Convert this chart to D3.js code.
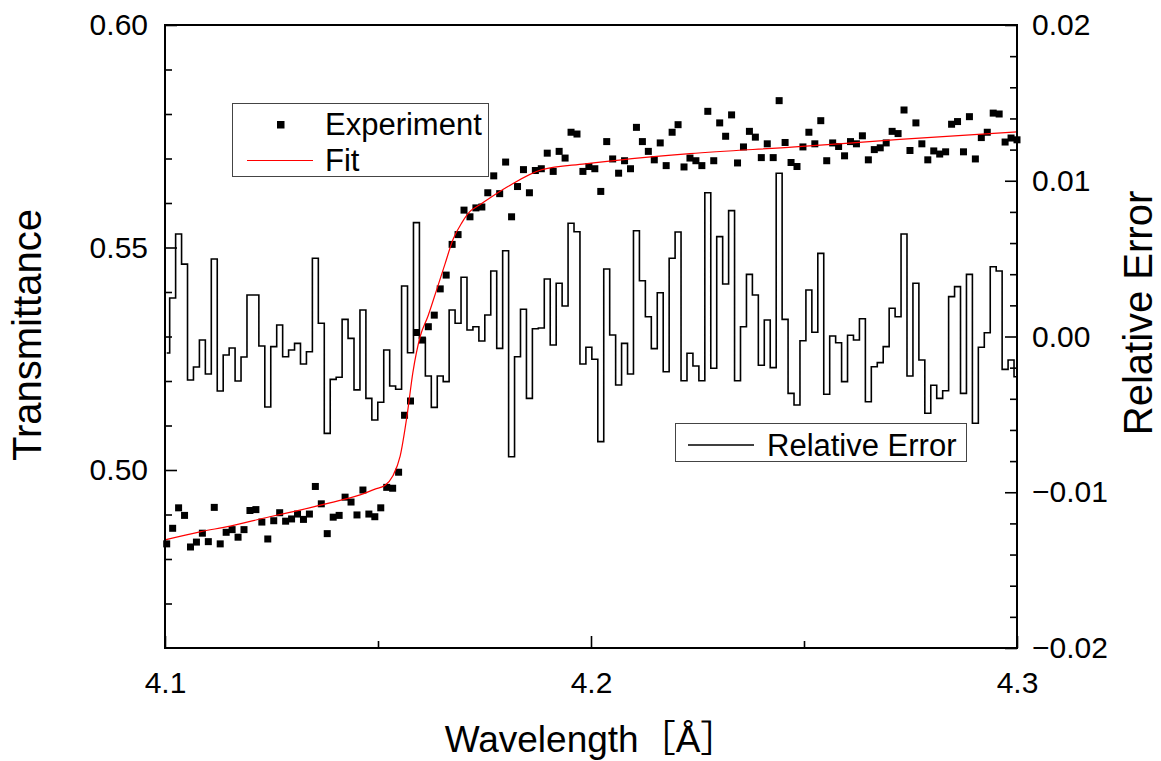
<!DOCTYPE html>
<html>
<head>
<meta charset="utf-8">
<script src="https://cdn.jsdelivr.net/npm/d3@7"></script>
<style>
  body { margin: 0; background: #fff; }
  svg { display: block; font-family: "Liberation Sans", Arial, "Noto Sans CJK JP", sans-serif; }
</style>
</head>
<body>
<div id="chart"></div>
<script>
// wavelength grid of the measurement (evenly sampled)
const wlStart = 4.1004;
const wlStep = 0.0013958;
const nPoints = 144;
const wavelength = d3.range(nPoints).map(i => wlStart + i * wlStep);

const transmittance = [
  0.4834, 0.4869, 0.4915, 0.4898, 0.4827, 0.4838, 0.4858, 0.4839, 0.4916, 0.4834,
  0.4860, 0.4866, 0.4849, 0.4866, 0.4909, 0.4911, 0.4883, 0.4845, 0.4886, 0.4904,
  0.4885, 0.4890, 0.4901, 0.4889, 0.4901, 0.4963, 0.4924, 0.4857, 0.4894, 0.4898,
  0.4939, 0.4928, 0.4899, 0.4955, 0.4901, 0.4895, 0.4915, 0.4961, 0.4959, 0.4995,
  0.5123, 0.5155, 0.5309, 0.5292, 0.5322, 0.5348, 0.5407, 0.5438, 0.5507, 0.5529,
  0.5584, 0.5569, 0.5589, 0.5591, 0.5623, 0.5661, 0.5621, 0.5692, 0.5569, 0.5637,
  0.5675, 0.5623, 0.5673, 0.5677, 0.5712, 0.5671, 0.5716, 0.5701, 0.5759, 0.5755,
  0.5671, 0.5682, 0.5677, 0.5626, 0.5738, 0.5699, 0.5667, 0.5695, 0.5677, 0.5770,
  0.5738, 0.5716, 0.5697, 0.5735, 0.5684, 0.5759, 0.5776, 0.5681, 0.5701, 0.5695,
  0.5684, 0.5806, 0.5695, 0.5780, 0.5750, 0.5798, 0.5690, 0.5726, 0.5761, 0.5748,
  0.5702, 0.5733, 0.5702, 0.5830, 0.5736, 0.5691, 0.5682, 0.5726, 0.5759, 0.5733,
  0.5785, 0.5695, 0.5735, 0.5727, 0.5706, 0.5738, 0.5733, 0.5751, 0.5697, 0.5720,
  0.5724, 0.5735, 0.5761, 0.5756, 0.5809, 0.5718, 0.5780, 0.5733, 0.5697, 0.5717,
  0.5710, 0.5715, 0.5777, 0.5783, 0.5715, 0.5794, 0.5699, 0.5747, 0.5759, 0.5802,
  0.5800, 0.5737, 0.5746, 0.5742
];

// relative error per point (right axis)
const relError = [
  -0.00106, 0.00247, 0.00658, 0.00465, -0.00279, -0.00196, -0.00022, -0.00241, 0.00498, -0.00350,
  -0.00119, -0.00074, -0.00286, -0.00132, 0.00266, 0.00266, -0.00061, -0.00453, -0.00065, 0.00074,
  -0.00130, -0.00087, -0.00044, -0.00177, -0.00098, 0.00502, 0.00085, -0.00622, -0.00275, -0.00262,
  0.00110, -0.00012, -0.00343, 0.00170, -0.00397, -0.00536, -0.00422, -0.00087, -0.00318, -0.00339,
  0.00324, -0.00104, 0.00731, -0.00012, -0.00254, -0.00455, -0.00254, -0.00290, 0.00170, 0.00085,
  0.00380, 0.00042, 0.00063, -0.00029, 0.00138, 0.00421, -0.00076, 0.00551, -0.00772, -0.00130,
  0.00175, -0.00397, 0.00050, 0.00055, 0.00369, -0.00055, 0.00342, 0.00196, 0.00727, 0.00673,
  -0.00177, -0.00069, -0.00146, -0.00675, 0.00433, 0.00010, -0.00311, -0.00044, -0.00241, 0.00679,
  0.00358, 0.00127, -0.00078, 0.00281, -0.00226, 0.00502, 0.00671, -0.00284, -0.00108, -0.00189,
  -0.00284, 0.00923, -0.00204, 0.00641, 0.00337, 0.00808, -0.00284, 0.00063, 0.00399, 0.00266,
  -0.00185, 0.00106, -0.00200, 0.01048, 0.00110, -0.00365, -0.00440, -0.00027, 0.00299, 0.00027,
  0.00534, -0.00371, 0.00003, -0.00040, -0.00290, 0.00008, -0.00022, 0.00114, -0.00419, -0.00194,
  -0.00168, -0.00065, 0.00181, 0.00127, 0.00658, -0.00254, 0.00342, -0.00151, -0.00493, -0.00313,
  -0.00397, -0.00348, 0.00256, 0.00320, -0.00365, 0.00399, -0.00557, -0.00069, 0.00024, 0.00448,
  0.00421, -0.00211, -0.00151, -0.00258
];

// fit curve, sampled along the drawn line
const fitWavelength = [
  4.1000, 4.1082, 4.1153, 4.1246, 4.1317, 4.1387, 4.1458, 4.1493, 4.1516, 4.1535,
  4.1552, 4.1568, 4.1582, 4.1599, 4.1617, 4.1638, 4.1657, 4.1676, 4.1697, 4.1716,
  4.1739, 4.1805, 4.1885, 4.1986, 4.2232, 4.2479, 4.2725, 4.3000
];
const fitTransmittance = [
  0.4843, 0.4861, 0.4874, 0.4895, 0.4910, 0.4926, 0.4944, 0.4957, 0.4965, 0.4987,
  0.5031, 0.5121, 0.5220, 0.5300, 0.5345, 0.5406, 0.5462, 0.5518, 0.5556, 0.5581,
  0.5596, 0.5637, 0.5675, 0.5688, 0.5711, 0.5726, 0.5743, 0.5760
];

// tick values
const xMajorTicks = [4.1, 4.2, 4.3];
const xMinorTicks = [4.15, 4.25];
const yLeftMajorTicks = [0.50, 0.55, 0.60];
const yLeftMinorTicks = [0.47, 0.48, 0.49, 0.51, 0.52, 0.53, 0.54, 0.56, 0.57, 0.58, 0.59];
const yRightMajorTicks = [-0.02, -0.01, 0.00, 0.01, 0.02];
const yRightMinorTicks = [-0.018, -0.016, -0.014, -0.012, -0.008, -0.006, -0.004, -0.002,
  0.002, 0.004, 0.006, 0.008, 0.012, 0.014, 0.016, 0.018];

const W = 1161, H = 761;
const plot = { left: 165, right: 1017, top: 25, bottom: 648 };

const svg = d3.select('#chart')
  .append('svg')
  .attr('width', W)
  .attr('height', H);

svg.append('rect').attr('width', W).attr('height', H).attr('fill', '#fff');

const x = d3.scaleLinear().domain([4.1, 4.3]).range([plot.left, plot.right]);
const yT = d3.scaleLinear().domain([0.46, 0.60]).range([plot.bottom, plot.top]);
const yE = d3.scaleLinear().domain([-0.02, 0.02]).range([plot.bottom, plot.top]);

// relative error as a step line
const stepLine = d3.line()
  .curve(d3.curveStep)
  .x(i => x(wavelength[i]))
  .y(i => yE(relError[i]));

svg.append('path')
  .attr('d', stepLine(d3.range(nPoints)))
  .attr('fill', 'none')
  .attr('stroke', '#000')
  .attr('stroke-width', 1.6);

// experiment points
svg.append('g')
  .selectAll('rect')
  .data(d3.range(nPoints))
  .enter()
  .append('rect')
  .attr('x', i => x(wavelength[i]) - 3.5)
  .attr('y', i => yT(transmittance[i]) - 3.5)
  .attr('width', 7)
  .attr('height', 7)
  .attr('fill', '#000');

// fit
const fitLine = d3.line()
  .curve(d3.curveMonotoneX)
  .x((d, i) => x(fitWavelength[i]))
  .y((d, i) => yT(fitTransmittance[i]));

svg.append('path')
  .attr('d', fitLine(fitWavelength))
  .attr('fill', 'none')
  .attr('stroke', '#ff0000')
  .attr('stroke-width', 1.2);

// axes
function styleAxis(g) {
  g.select('.domain').remove();
  g.selectAll('line').attr('stroke', '#000').attr('stroke-width', 1.6);
  g.selectAll('text')
    .attr('font-size', '30px')
    .attr('font-family', '"Liberation Sans", Arial, sans-serif')
    .attr('fill', '#000');
}

svg.append('g')
  .attr('transform', `translate(${plot.left},0)`)
  .call(d3.axisLeft(yT).tickValues(yLeftMajorTicks).tickSize(-12).tickPadding(17).tickFormat(d3.format('.2f')))
  .call(styleAxis);
svg.append('g')
  .attr('transform', `translate(${plot.left},0)`)
  .call(d3.axisLeft(yT).tickValues(yLeftMinorTicks).tickSize(-7).tickFormat(''))
  .call(styleAxis);

svg.append('g')
  .attr('transform', `translate(${plot.right},0)`)
  .call(d3.axisRight(yE).tickValues(yRightMajorTicks).tickSize(-12).tickPadding(15).tickFormat(d3.format('.2f')))
  .call(styleAxis);
svg.append('g')
  .attr('transform', `translate(${plot.right},0)`)
  .call(d3.axisRight(yE).tickValues(yRightMinorTicks).tickSize(-7).tickFormat(''))
  .call(styleAxis);

svg.append('g')
  .attr('transform', `translate(0,${plot.bottom})`)
  .call(d3.axisBottom(x).tickValues(xMajorTicks).tickSize(-12).tickPadding(24).tickFormat(d3.format('.1f')))
  .call(styleAxis);
svg.append('g')
  .attr('transform', `translate(0,${plot.bottom})`)
  .call(d3.axisBottom(x).tickValues(xMinorTicks).tickSize(-7).tickFormat(''))
  .call(styleAxis);

// frame
svg.append('rect')
  .attr('x', plot.left)
  .attr('y', plot.top)
  .attr('width', plot.right - plot.left)
  .attr('height', plot.bottom - plot.top)
  .attr('fill', 'none')
  .attr('stroke', '#000')
  .attr('stroke-width', 2);

// axis titles
svg.append('text')
  .attr('transform', 'translate(41,335) rotate(-90)')
  .attr('text-anchor', 'middle')
  .style('font-size', '40px')
  .text('Transmittance');

svg.append('text')
  .attr('transform', 'translate(1152,313) rotate(-90)')
  .attr('text-anchor', 'middle')
  .style('font-size', '40px')
  .text('Relative Error');

svg.append('text')
  .attr('x', 591)
  .attr('y', 752)
  .attr('text-anchor', 'middle')
  .style('font-size', '37px')
  .text('Wavelength［Å］');

// legend: experiment + fit
const leg1 = svg.append('g');
leg1.append('rect')
  .attr('x', 232.5).attr('y', 103.5).attr('width', 256).attr('height', 73)
  .attr('fill', '#fff').attr('stroke', '#444').attr('stroke-width', 1);
leg1.append('rect')
  .attr('x', 277).attr('y', 121).attr('width', 7.5).attr('height', 7.5)
  .attr('fill', '#000');
leg1.append('text')
  .attr('x', 325).attr('y', 135)
  .style('font-size', '31px')
  .text('Experiment');
leg1.append('line')
  .attr('x1', 247).attr('x2', 313).attr('y1', 160.5).attr('y2', 160.5)
  .attr('stroke', '#ff0000').attr('stroke-width', 1.2);
leg1.append('text')
  .attr('x', 325).attr('y', 171)
  .style('font-size', '31px')
  .text('Fit');

// legend: relative error
const leg2 = svg.append('g');
leg2.append('rect')
  .attr('x', 675.5).attr('y', 423.5).attr('width', 291).attr('height', 38)
  .attr('fill', '#fff').attr('stroke', '#444').attr('stroke-width', 1);
leg2.append('line')
  .attr('x1', 688).attr('x2', 754).attr('y1', 445).attr('y2', 445)
  .attr('stroke', '#000').attr('stroke-width', 1.6);
leg2.append('text')
  .attr('x', 767).attr('y', 456)
  .style('font-size', '31px')
  .text('Relative Error');
</script>
</body>
</html>
